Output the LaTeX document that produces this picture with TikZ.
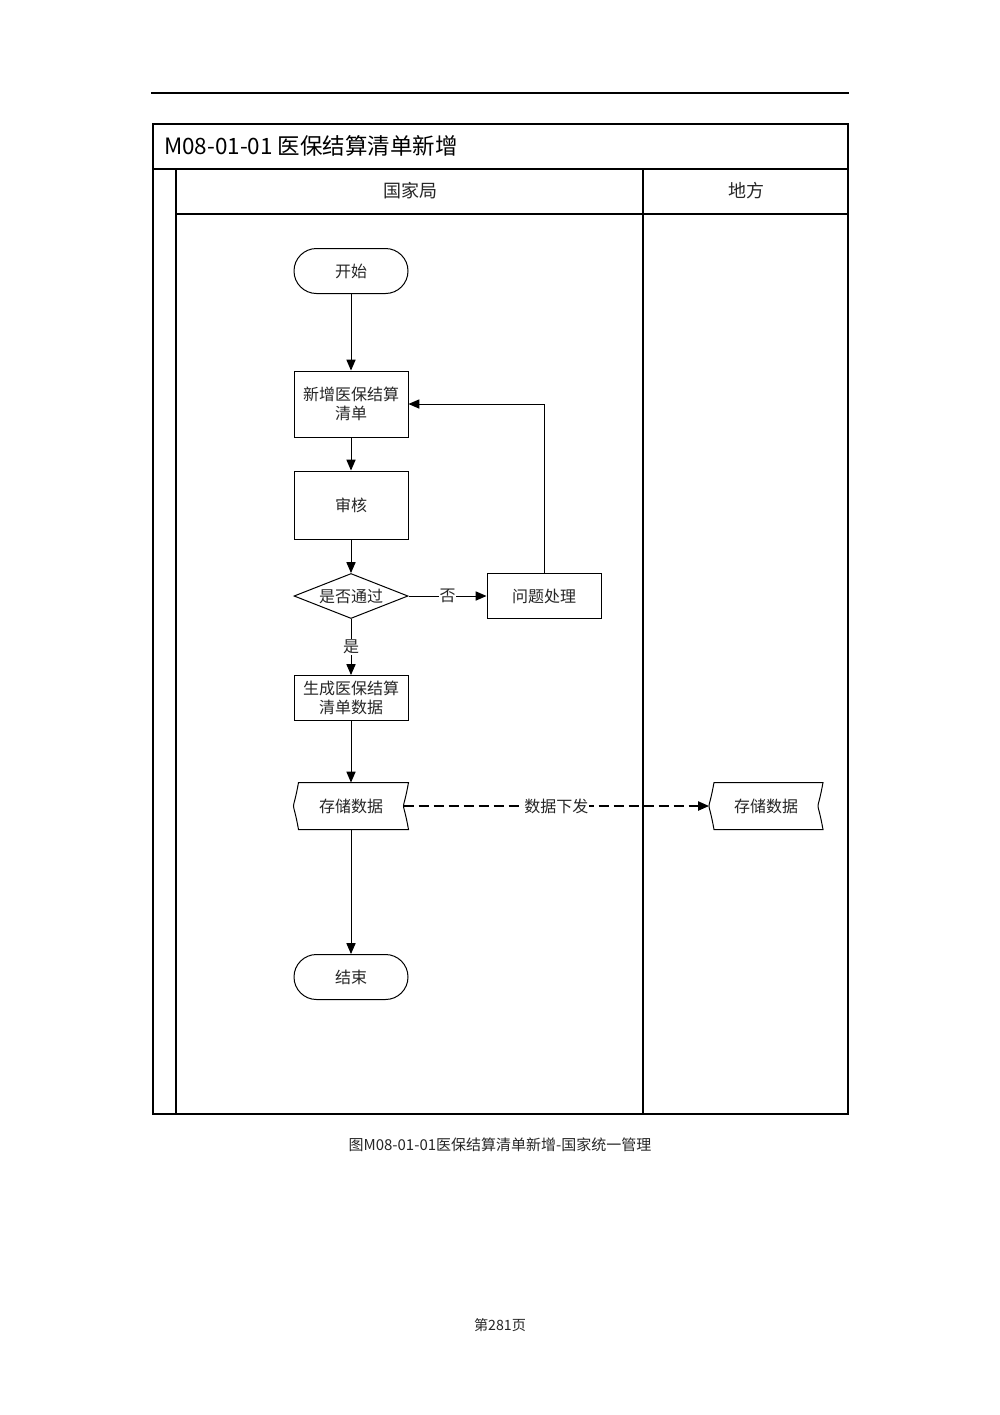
\documentclass[tikz,border=0pt]{standalone}
\usepackage{fontspec}
\setmainfont{Noto Sans CJK SC}
\usetikzlibrary{arrows.meta,shapes.geometric,calc}
\newcommand{\drawstored}[1]{%
  \draw ($(#1.north west)+(3pt,0)$) -- (#1.north east)
    .. controls ($(#1.east)+(-4pt,-8pt)$) and ($(#1.east)+(-4pt,8pt)$) .. (#1.south east)
    -- ($(#1.south west)+(3pt,0)$)
    .. controls ($(#1.west)+(-1pt,8pt)$) and ($(#1.west)+(-1pt,-8pt)$) .. cycle;}
\begin{document}
\begin{tikzpicture}[x=0.6pt,y=-0.6pt,line width=0.6pt,
  txt/.style={font=\fontsize{9.6}{11.4}\selectfont,text=black!85},
  box/.style={draw,txt,minimum width=68.4pt,minimum height=27pt,inner sep=1pt,align=center},
  term/.style={box,rounded corners=13.5pt},
  dec/.style={draw,diamond,aspect=2.53,txt,minimum width=68.4pt,minimum height=27pt,inner sep=0pt},
  sto/.style={txt,minimum width=68.4pt,minimum height=27.6pt,inner sep=0pt},
  arr/.style={-{Triangle[length=6.5pt,width=5.5pt]}},
  lbl/.style={txt,fill=white,inner sep=0.5pt},
  frame/.style={line width=0.75pt}
]
\useasboundingbox[fill=white] (0,0) rectangle (1000,1415);
% top rule
\draw[line width=1.2pt] (151,93) -- (849,93);
% frame
\draw[frame] (153,124) rectangle (848,1114);
\draw[frame] (153,169) -- (848,169);
\draw[frame] (176,169) -- (176,1114);
\draw[frame] (643,169) -- (643,1114);
\draw[frame] (176,214) -- (848,214);
\node[anchor=west,font=\fontsize{13.5}{15}\selectfont] (title) at (158,146) {M08-01-01 医保结算清单新增};
\node[font=\fontsize{10.8}{13}\selectfont,text=black!85] (lane1) at (410,191) {国家局};
\node[font=\fontsize{10.8}{13}\selectfont,text=black!85] (lane2) at (746,191) {地方};
% nodes
\node[term] (start) at (351,271) {开始};
\node[box,minimum height=39.6pt] (n1) at (351,404) {新增医保结算\\清单};
\node[box,minimum height=40.8pt] (n2) at (351,505) {审核};
\node[dec] (d) at (351,596) {是否通过};
\node[box] (p) at (544,596) {问题处理};
\node[box] (g) at (351,698) {生成医保结算\\清单数据};
\node[sto] (s1) at (351,806) {存储数据};
\drawstored{s1}
\node[sto,minimum width=67.8pt] (s2) at (766,806) {存储数据};
\drawstored{s2}
\node[term] (e) at (351,977) {结束};
% connectors
\draw[arr] (start) -- (n1);
\draw[arr] (n1) -- (n2);
\draw[arr] (n2) -- (d);
\draw[arr] (d) -- node[lbl]{否} (p);
\draw[arr] (p.north) |- (n1.east);
\draw[arr] (d) -- node[lbl]{是} (g);
\draw[arr] (g) -- (s1);
\draw[arr] (s1) -- (e);
\draw[arr,line width=0.85pt,dash pattern=on 6pt off 3pt] ($(s1.east)+(-3pt,0)$) -- node[lbl]{数据下发} (s2.west);
% caption and page number
\node[font=\fontsize{9}{11}\selectfont,text=black!85] (cap) at (500,1145) {图M08-01-01医保结算清单新增-国家统一管理};
\node[font=\fontsize{8.5}{10}\selectfont,text=black!85] (pg) at (500,1325) {第281页};
\end{tikzpicture}
\end{document}
